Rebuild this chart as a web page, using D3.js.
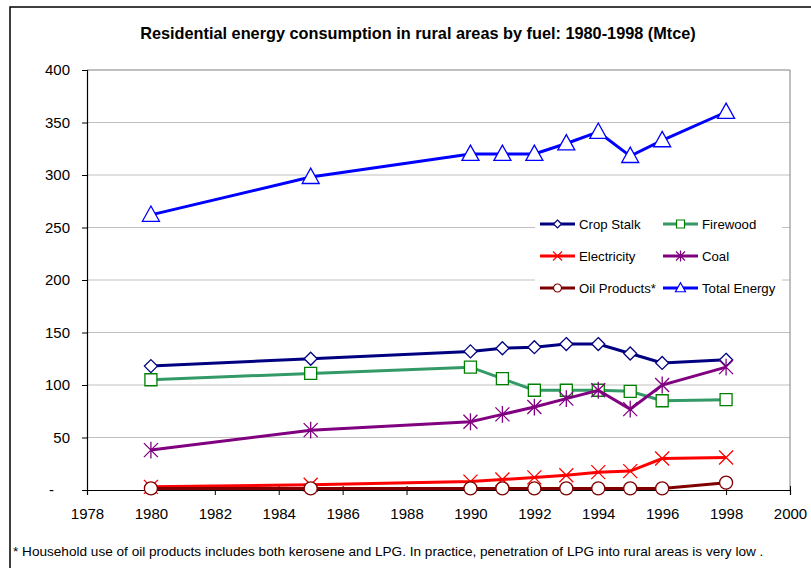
<!DOCTYPE html>
<html>
<head>
<meta charset="utf-8">
<script src="https://cdn.jsdelivr.net/npm/d3@7"></script>
<style>
  body { margin: 0; background: #fff; }
  svg { display: block; font-family: "Liberation Sans", Arial, sans-serif; }
</style>
</head>
<body>
<svg id="chart" width="811" height="568"></svg>
<script>
// data
const years = [1980, 1985, 1990, 1991, 1992, 1993, 1994, 1995, 1996, 1998];
const cropStalk = [118, 125, 132, 135, 136, 139, 139, 130, 121, 124];
const firewood = [105, 111, 117, 106, 95, 95, 95, 94, 85, 86];
const electricity = [3, 5, 8, 10, 12, 14, 17, 18, 30, 31];
const coal = [38, 57, 65, 72, 79, 87, 95, 77, 100, 117];
const oilProducts = [1.5, 1.5, 1.5, 1.5, 1.5, 1.5, 1.5, 1.5, 1.5, 7];
const totalEnergy = [262, 298, 320, 320, 320, 330, 341, 318, 333, 360];
const xTicks = [1978, 1980, 1982, 1984, 1986, 1988, 1990, 1992, 1994, 1996, 1998, 2000];
const yTicks = [0, 50, 100, 150, 200, 250, 300, 350, 400];

const title = "Residential energy consumption in rural areas by fuel: 1980-1998 (Mtce)";
const footnote = "* Household use of oil products includes both kerosene and LPG.  In practice, penetration of LPG into rural areas is very low .";

const series = [
  { name: "Crop Stalk", values: cropStalk, line: "#000080", mark: "#000080", shape: "diamond" },
  { name: "Firewood", values: firewood, line: "#339966", mark: "#008000", shape: "square" },
  { name: "Electricity", values: electricity, line: "#ff0000", mark: "#ff0000", shape: "x" },
  { name: "Coal", values: coal, line: "#800080", mark: "#800080", shape: "star" },
  { name: "Oil Products*", values: oilProducts, line: "#800000", mark: "#800000", shape: "circle" },
  { name: "Total Energy", values: totalEnergy, line: "#0000ff", mark: "#0000ff", shape: "triangle" }
];

const plot = { left: 87, right: 790, top: 70, bottom: 490 };

const svg = d3.select("#chart");

// outer frame
svg.append("rect")
  .attr("x", 10).attr("y", 7)
  .attr("width", 830).attr("height", 600)
  .attr("fill", "none")
  .attr("stroke", "#000")
  .attr("stroke-width", 1.5);

const x = d3.scaleLinear().domain([1978, 2000]).range([plot.left, plot.right]);
const y = d3.scaleLinear().domain([0, 400]).range([plot.bottom, plot.top]);

svg.append("text")
  .attr("x", 418).attr("y", 39)
  .attr("text-anchor", "middle")
  .attr("font-size", 16.3)
  .attr("font-weight", "bold")
  .text(title);

// gridlines
svg.append("g")
  .selectAll("line")
  .data(yTicks.filter(d => d > 0 && d < 400))
  .enter().append("line")
  .attr("x1", plot.left).attr("x2", plot.right)
  .attr("y1", d => y(d)).attr("y2", d => y(d))
  .attr("stroke", "#c0c0c0")
  .attr("stroke-width", 1);

// plot area border (top / right)
svg.append("path")
  .attr("d", `M${plot.left},${plot.top}H${plot.right}V${plot.bottom}`)
  .attr("fill", "none")
  .attr("stroke", "#808080")
  .attr("stroke-width", 1);

// y axis
const yAxis = svg.append("g")
  .attr("transform", `translate(${plot.left},0)`)
  .call(d3.axisLeft(y).tickValues(yTicks).tickSize(5).tickPadding(12)
    .tickFormat(d => d === 0 ? "-" : d));
yAxis.select(".domain").attr("stroke", "#000").attr("stroke-width", 1.2);
yAxis.selectAll(".tick line").attr("stroke", "#000");
yAxis.selectAll("text").attr("font-size", 15).attr("font-family", "Liberation Sans, Arial, sans-serif").attr("fill", "#000");
yAxis.selectAll(".tick").filter(d => d === 0).select("text").attr("x", -33);

// x axis, ticks crossing the line
const xAxis = svg.append("g")
  .attr("transform", `translate(0,${plot.bottom})`)
  .call(d3.axisBottom(x).tickValues(xTicks).tickSize(5).tickPadding(13).tickFormat(d3.format("d")));
xAxis.select(".domain").attr("stroke", "#000").attr("stroke-width", 1.2);
xAxis.selectAll(".tick line").attr("stroke", "#000").attr("y1", -4).attr("y2", 5);
xAxis.selectAll("text").attr("font-size", 15).attr("font-family", "Liberation Sans, Arial, sans-serif").attr("fill", "#000");

function markerPath(shape, s) {
  const h = s / 2;
  switch (shape) {
    case "diamond": return `M0,${-h}L${h},0L0,${h}L${-h},0Z`;
    case "square": return `M${-h},${-h}H${h}V${h}H${-h}Z`;
    case "x": return `M${-h},${-h}L${h},${h}M${-h},${h}L${h},${-h}`;
    case "star": return `M${-h},${-h}L${h},${h}M${-h},${h}L${h},${-h}M0,${-h * 1.2}V${h * 1.2}`;
    case "circle": return d3.arc()({ innerRadius: 0, outerRadius: h, startAngle: 0, endAngle: 2 * Math.PI });
    case "triangle": return `M0,${-h * 1.05}L${h},${h * 0.75}L${-h},${h * 0.75}Z`;
  }
}
const markSize = { diamond: 13, square: 12, x: 14, star: 14, circle: 13, triangle: 17 };
const legendSize = { diamond: 8, square: 8, x: 9, star: 9, circle: 8, triangle: 10 };

const line = d3.line().x(d => x(d[0])).y(d => y(d[1]));

series.forEach(s => {
  const pts = years.map((yr, i) => [yr, s.values[i]]);
  const g = svg.append("g");
  g.append("path")
    .attr("d", line(pts))
    .attr("fill", "none")
    .attr("stroke", s.line)
    .attr("stroke-width", 3);
  g.selectAll("path.mark")
    .data(pts)
    .enter().append("path")
    .attr("class", "mark")
    .attr("transform", d => `translate(${x(d[0])},${y(d[1])})`)
    .attr("d", markerPath(s.shape, markSize[s.shape]))
    .attr("fill", s.shape === "x" || s.shape === "star" ? "none" : "#fff")
    .attr("stroke", s.mark)
    .attr("stroke-width", 1.3);
});

// legend
const legend = svg.append("g");
legend.append("rect")
  .attr("x", 535).attr("y", 206)
  .attr("width", 247).attr("height", 98)
  .attr("fill", "#fff");
series.forEach((s, i) => {
  const lx = 540 + (i % 2) * 123;
  const ly = 224 + Math.floor(i / 2) * 32;
  legend.append("line")
    .attr("x1", lx).attr("x2", lx + 35)
    .attr("y1", ly).attr("y2", ly)
    .attr("stroke", s.line)
    .attr("stroke-width", 3);
  legend.append("path")
    .attr("transform", `translate(${lx + 17.5},${ly})`)
    .attr("d", markerPath(s.shape, legendSize[s.shape]))
    .attr("fill", s.shape === "x" || s.shape === "star" ? "none" : "#fff")
    .attr("stroke", s.mark)
    .attr("stroke-width", 1.2);
  legend.append("text")
    .attr("x", lx + 39).attr("y", ly + 5)
    .attr("font-size", 13.2)
    .text(s.name);
});

svg.append("text")
  .attr("x", 13).attr("y", 556)
  .attr("font-size", 13.6)
  .text(footnote);
</script>
</body>
</html>
